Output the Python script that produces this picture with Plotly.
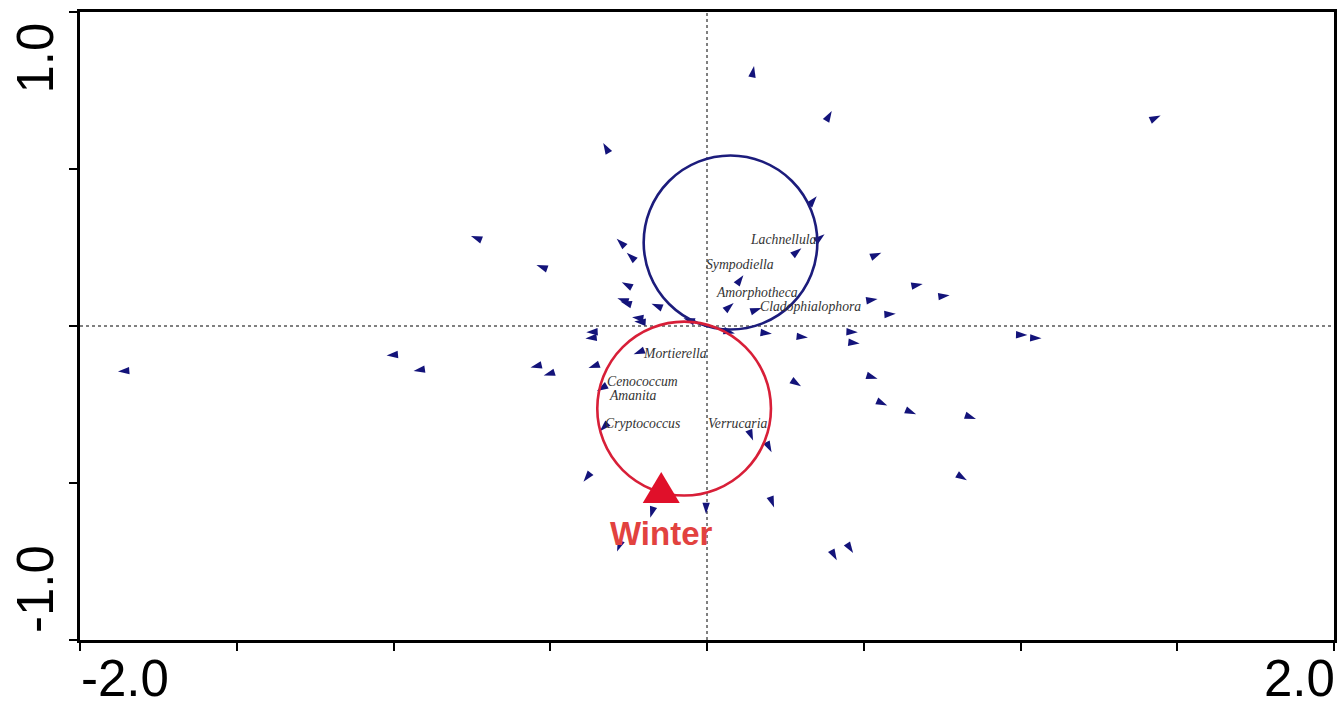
import numpy as np
import plotly.graph_objects as go

# Species arrow tips (axis 1, axis 2)
species_x = [0.150, 0.398, 1.447, -0.331, 0.350, -0.753, -0.288, 0.375, 0.301, -0.256,
             0.556, -0.544, 0.116, -0.272, 0.688, 0.774, -0.286, -0.276, -0.177, 0.085,
             0.174, 0.544, 0.602, -0.239, -0.232, -0.075, -0.385, -0.388, 0.089, 0.207,
             0.322, 0.481, 0.487, 1.022, 1.067, -0.234, -1.022, -0.936, -0.563, -0.521,
             -0.378, -1.879, -0.351, -0.342, 0.300, 0.544, 0.575, 0.667, 0.858, 0.147,
             0.206, 0.829, -0.394, 0.214, -0.181, -0.003, -0.287, 0.414, 0.466]
species_y = [0.828, 0.685, 0.670, 0.583, 0.413, 0.287, 0.278, 0.292, 0.248, 0.233,
             0.233, 0.194, 0.162, 0.139, 0.134, 0.098, 0.088, 0.078, 0.071, 0.073,
             0.057, 0.086, 0.039, 0.028, 0.014, 0.025, -0.020, -0.040, -0.024, -0.025,
             -0.037, -0.020, -0.056, -0.029, -0.039, -0.090, -0.094, -0.143, -0.132, -0.158,
             -0.134, -0.145, -0.207, -0.335, -0.192, -0.168, -0.253, -0.281, -0.296, -0.365,
             -0.402, -0.491, -0.496, -0.578, -0.611, -0.599, -0.718, -0.746, -0.723]

# Genus labels
label_text = ["Lachnellula", "Sympodiella", "Amorphotheca", "Cladophialophora",
              "Mortierella", "Cenococcum", "Amanita", "Cryptococcus", "Verrucaria"]
label_x = [0.245, 0.105, 0.159, 0.331, -0.102, -0.207, -0.236, -0.207, 0.096]
label_y = [0.274, 0.197, 0.108, 0.061, -0.086, -0.178, -0.220, -0.312, -0.309]

# Circles (centre x, centre y, radius)
circle_cx = [0.075, -0.073]
circle_cy = [0.266, -0.263]
circle_r = [0.277, 0.277]
circle_colors = ["#1c1c7c", "#d81f38"]

# Environmental variable
env_name = ["Winter"]
env_x = [-0.146]
env_y = [-0.532]

# Axis ticks
x_tickvals = [-2.0, -1.5, -1.0, -0.5, 0.0, 0.5, 1.0, 1.5, 2.0]
y_tickvals = [-1.0, -0.5, 0.0, 0.5, 1.0]
x_ticklabels = ["-2.0", "2.0"]
y_ticklabels = ["-1.0", "1.0"]

sx = np.array(species_x)
sy = np.array(species_y)
angles = np.degrees(np.arctan2(sx, sy))

fig = go.Figure()

shapes = []
# zero lines
shapes.append(dict(type="line", xref="x", yref="y", x0=0, x1=0, y0=-1, y1=1,
                   line=dict(color="black", width=1, dash="dot"), layer="below"))
shapes.append(dict(type="line", xref="x", yref="y", x0=-2, x1=2, y0=0, y1=0,
                   line=dict(color="black", width=1, dash="dot"), layer="below"))
for cx, cy, r, c in zip(circle_cx, circle_cy, circle_r, circle_colors):
    shapes.append(dict(type="circle", xref="x", yref="y", x0=cx - r, x1=cx + r,
                       y0=cy - r, y1=cy + r, line=dict(color=c, width=2.6)))
# Winter triangle
for ex, ey in zip(env_x, env_y):
    shapes.append(dict(type="path", xref="x", yref="y", xsizemode="pixel", ysizemode="pixel",
                       xanchor=ex, yanchor=ey, path="M-18.5,-10 L18.5,-10 L0,21 Z",
                       fillcolor="#e0102a", line=dict(width=0)))

fig.add_trace(go.Scatter(
    x=sx, y=sy, mode="markers",
    marker=dict(symbol="arrow", size=12, angle=angles, color="#13137a",
                line=dict(width=0)),
    hoverinfo="skip", showlegend=False))

annotations = []
for t, x, y in zip(label_text, label_x, label_y):
    annotations.append(dict(x=x, y=y, xref="x", yref="y", text="<i>%s</i>" % t,
                            showarrow=False, xanchor="center", yanchor="middle",
                            font=dict(family="Times New Roman, Liberation Serif", size=13.7,
                                      color="#333333")))
for t, x, y in zip(env_name, env_x, env_y):
    annotations.append(dict(x=x, y=y, xref="x", yref="y", text="<b>%s</b>" % t,
                            showarrow=False, xanchor="center", yanchor="middle", yshift=-40,
                            font=dict(family="Arial, Liberation Sans", size=33, color="#e2423f")))

tick_font = dict(family="Arial, Liberation Sans", size=51, color="black")
# x tick labels at axis ends
annotations.append(dict(x=x_tickvals[0], y=0, xref="x", yref="paper", text=x_ticklabels[0],
                        showarrow=False, xanchor="left", yanchor="top", yshift=-9,
                        borderpad=0, font=tick_font))
annotations.append(dict(x=x_tickvals[-1], y=0, xref="x", yref="paper", text=x_ticklabels[1],
                        showarrow=False, xanchor="right", yanchor="top", yshift=-9, xshift=2,
                        borderpad=0, font=tick_font))
annotations.append(dict(x=0, y=y_tickvals[0], xref="paper", yref="y", text=y_ticklabels[0],
                        showarrow=False, xanchor="center", yanchor="bottom", xshift=-45, yshift=6,
                        borderpad=0, textangle=-90, font=tick_font))
annotations.append(dict(x=0, y=y_tickvals[-1], xref="paper", yref="y", text=y_ticklabels[1],
                        showarrow=False, xanchor="center", yanchor="top", xshift=-45, yshift=-10,
                        borderpad=0, textangle=-90, font=tick_font))

axis_common = dict(showgrid=False, zeroline=False, showline=True, mirror=True,
                   linecolor="black", linewidth=2.5, ticks="outside", ticklen=8,
                   tickwidth=2, tickcolor="black", showticklabels=False)

fig.update_layout(
    width=1340, height=706,
    margin=dict(l=80, r=3, t=12, b=66),
    paper_bgcolor="white", plot_bgcolor="white",
    xaxis=dict(range=[-2, 2], tickvals=x_tickvals, **axis_common),
    yaxis=dict(range=[-1, 1], tickvals=y_tickvals, **axis_common),
    shapes=shapes, annotations=annotations, showlegend=False,
)

# remove the default page margin so the figure fills the window exactly
fig.write_html("out.html", config={"displayModeBar": False},
               post_script="document.body.style.margin='0';document.body.style.overflow='hidden';")
